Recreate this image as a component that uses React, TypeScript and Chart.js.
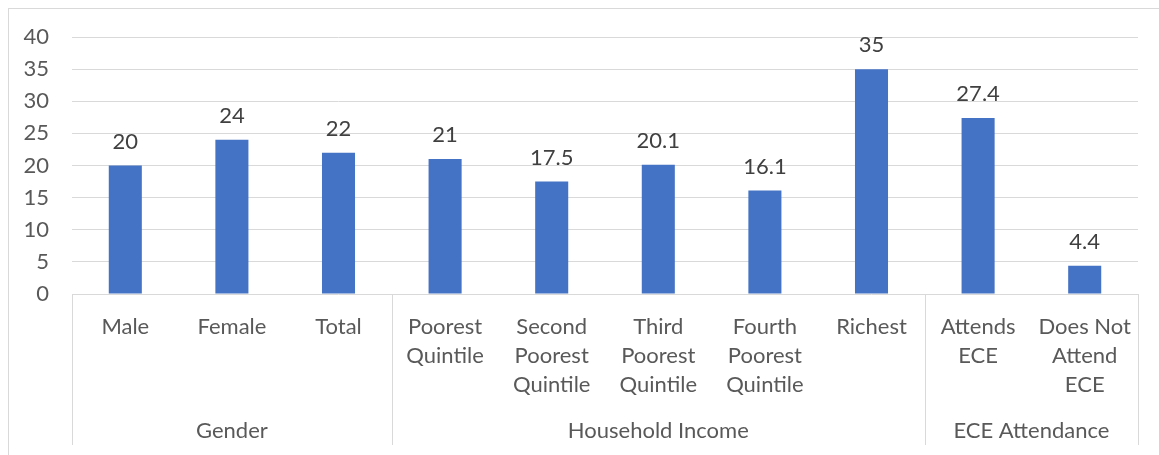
import React, { useEffect, useRef } from "react";
import { Chart, registerables } from "chart.js";

Chart.register(...registerables);

const categories: string[][] = [
  ["Male"],
  ["Female"],
  ["Total"],
  ["Poorest", "Quintile"],
  ["Second", "Poorest", "Quintile"],
  ["Third", "Poorest", "Quintile"],
  ["Fourth", "Poorest", "Quintile"],
  ["Richest"],
  ["Attends", "ECE"],
  ["Does Not", "Attend", "ECE"],
];
const values: number[] = [20, 24, 22, 21, 17.5, 20.1, 16.1, 35, 27.4, 4.4];
const groupNames: string[] = ["Gender", "Household Income", "ECE Attendance"];
const groupSizes: number[] = [3, 5, 2];
const yMin = 0;
const yMax = 40;
const yStep = 5;

const FONT = "Lato, 'Noto Sans', sans-serif";
const FONT_SIZE = 22;
const AXIS_COLOR = "#595959";
const LABEL_COLOR = "#404040";
const GRID_COLOR = "#d9d9d9";
const BAR_COLOR = "#4472C4";

const CW = 1160;
const CH = 456;

const dataLabelPlugin = {
  id: "dataLabels",
  afterDatasetsDraw(chart: any) {
    const ctx = chart.ctx;
    const meta = chart.getDatasetMeta(0);
    ctx.save();
    ctx.font = `${FONT_SIZE}px ${FONT}`;
    ctx.fillStyle = LABEL_COLOR;
    ctx.textAlign = "center";
    ctx.textBaseline = "alphabetic";
    meta.data.forEach((bar: any, i: number) => {
      ctx.fillText(String(values[i]), bar.x, bar.y - 17);
    });
    ctx.restore();
  },
};

const groupAxisPlugin = {
  id: "groupAxis",
  afterDraw(chart: any) {
    const ctx = chart.ctx;
    const xs = chart.scales.x;
    const step = xs.getPixelForValue(1) - xs.getPixelForValue(0);
    const edge = (idx: number) => xs.getPixelForValue(idx) - step / 2;
    ctx.save();
    ctx.strokeStyle = GRID_COLOR;
    ctx.lineWidth = 1;
    let start = 0;
    const bounds: number[] = [0];
    groupSizes.forEach((s) => {
      start += s;
      bounds.push(start);
    });
    bounds.forEach((b) => {
      const x = Math.round(edge(b)) + 0.5;
      ctx.beginPath();
      ctx.moveTo(x, xs.top);
      ctx.lineTo(x, xs.bottom);
      ctx.stroke();
    });
    ctx.font = `${FONT_SIZE}px ${FONT}`;
    ctx.fillStyle = AXIS_COLOR;
    ctx.textAlign = "center";
    ctx.textBaseline = "middle";
    for (let g = 0; g < groupNames.length; g++) {
      const cx = (edge(bounds[g]) + edge(bounds[g + 1])) / 2;
      ctx.fillText(groupNames[g], cx, xs.top + 137);
    }
    ctx.restore();
  },
};

export default function App() {
  const ref = useRef<HTMLCanvasElement | null>(null);
  useEffect(() => {
    document.documentElement.style.overflow = "hidden";
    document.body.style.overflow = "hidden";
    if (!ref.current) return;
    const chart = new Chart(ref.current, {
      type: "bar",
      data: {
        labels: categories,
        datasets: [
          {
            data: values,
            backgroundColor: BAR_COLOR,
            borderWidth: 0,
            barPercentage: 0.31,
            categoryPercentage: 1,
          },
        ],
      },
      options: {
        responsive: false,
        animation: false,
        layout: { padding: { top: 28, right: CW - 1129, bottom: CH - 436, left: 0 } },
        plugins: {
          legend: { display: false },
          tooltip: { enabled: false },
        },
        scales: {
          x: {
            offset: true,
            grid: { display: false },
            border: { display: false },
            ticks: {
              color: AXIS_COLOR,
              font: { family: FONT, size: FONT_SIZE, lineHeight: 29 / FONT_SIZE },
              padding: 10.5,
              maxRotation: 0,
              autoSkip: false,
            },
            afterFit(scale: any) {
              scale.height = 151;
              scale.paddingTop = 0;
              scale.paddingBottom = 0;
            },
          },
          y: {
            min: yMin,
            max: yMax,
            grid: { color: GRID_COLOR, drawTicks: false, lineWidth: 1 },
            border: { display: false },
            ticks: {
              stepSize: yStep,
              color: AXIS_COLOR,
              font: { family: FONT, size: FONT_SIZE },
              padding: 23,
            },
            afterFit(scale: any) {
              scale.width = 63;
              scale.paddingTop = 0;
              scale.paddingBottom = 0;
            },
          },
        },
      },
      plugins: [dataLabelPlugin, groupAxisPlugin],
    });
    return () => chart.destroy();
  }, []);
  return (
    <div
      style={{
        position: "absolute",
        left: 8,
        top: 8,
        width: CW,
        height: CH,
        border: `1px solid ${GRID_COLOR}`,
        background: "#fff",
      }}
    >
      <canvas ref={ref} width={CW} height={CH} style={{ display: "block", width: CW, height: CH }} />
    </div>
  );
}
